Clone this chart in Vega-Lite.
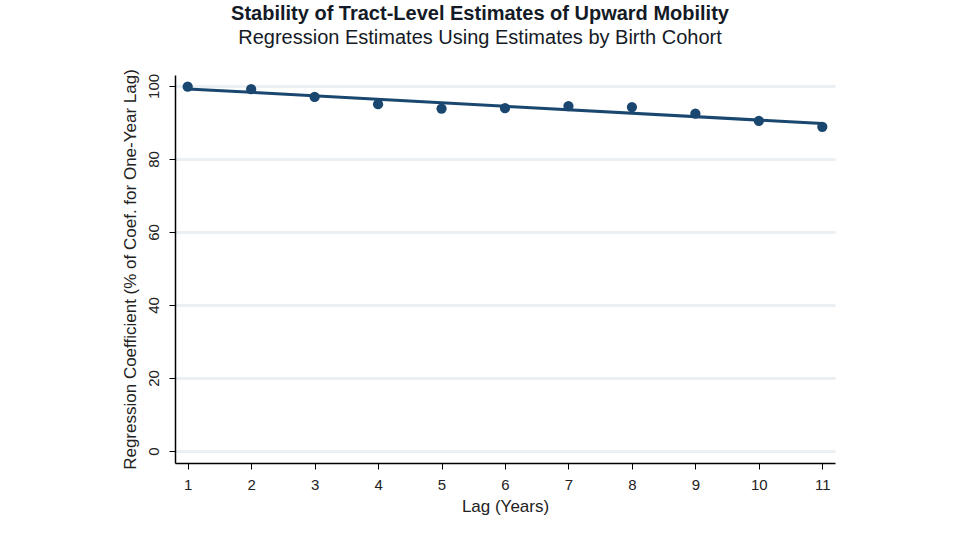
{
  "$schema": "https://vega.github.io/schema/vega-lite/v6.json",
  "width": 660,
  "height": 388,
  "autosize": {"type": "none"},
  "padding": {"left": 175, "top": 75, "right": 125, "bottom": 77},
  "background": "white",
  "config": {
    "font": "Liberation Sans",
    "view": {"stroke": null}
  },
  "title": {
    "text": "Stability of Tract-Level Estimates of Upward Mobility",
    "subtitle": "Regression Estimates Using Estimates by Birth Cohort",
    "anchor": "middle",
    "frame": "group",
    "dx": -25,
    "offset": 21,
    "fontSize": 20,
    "fontWeight": "bold",
    "color": "#141a26",
    "subtitleFontSize": 20,
    "subtitleColor": "#141a26",
    "subtitlePadding": 4,
    "subtitleFont": "Liberation Sans"
  },
  "data": {
    "values": [
      {"lag": 1, "coef": 99.8},
      {"lag": 2, "coef": 99.1},
      {"lag": 3, "coef": 97.0},
      {"lag": 4, "coef": 95.0},
      {"lag": 5, "coef": 93.8},
      {"lag": 6, "coef": 93.9},
      {"lag": 7, "coef": 94.5},
      {"lag": 8, "coef": 94.2},
      {"lag": 9, "coef": 92.4},
      {"lag": 10, "coef": 90.4},
      {"lag": 11, "coef": 88.8}
    ]
  },
  "layer": [
    {
      "transform": [{"regression": "coef", "on": "lag"}],
      "mark": {"type": "line", "color": "#1a476f", "strokeWidth": 3},
      "encoding": {
        "x": {"field": "lag", "type": "quantitative"},
        "y": {"field": "coef", "type": "quantitative"}
      }
    },
    {
      "mark": {"type": "circle", "color": "#1a476f", "opacity": 1, "size": 105},
      "encoding": {
        "x": {
          "field": "lag",
          "type": "quantitative",
          "scale": {"domain": [0.8, 11.2], "nice": false, "zero": false},
          "axis": {
            "title": "Lag (Years)",
            "titleFontSize": 17,
            "titleFontWeight": "normal",
            "titleColor": "#222",
            "titlePadding": 6,
            "values": [1, 2, 3, 4, 5, 6, 7, 8, 9, 10, 11],
            "format": "d",
            "labelFontSize": 15,
            "labelColor": "#222",
            "labelPadding": 8,
            "tickSize": 6,
            "tickColor": "black",
            "domainColor": "black",
            "domainWidth": 1.5,
            "grid": false
          }
        },
        "y": {
          "field": "coef",
          "type": "quantitative",
          "scale": {"domain": [-3.3, 103], "nice": false, "zero": false},
          "axis": {
            "title": "Regression Coefficient (% of Coef. for One-Year Lag)",
            "titleFontSize": 17,
            "titleFontWeight": "normal",
            "titleColor": "#222",
            "titlePadding": 7,
            "values": [0, 20, 40, 60, 80, 100],
            "labelAngle": -90,
            "labelAlign": "center",
            "labelBaseline": "bottom",
            "labelFontSize": 15,
            "labelColor": "#222",
            "labelPadding": 8,
            "tickSize": 6,
            "tickColor": "black",
            "domainColor": "black",
            "domainWidth": 1.5,
            "grid": true,
            "gridColor": "#eaf0f4",
            "gridWidth": 3
          }
        }
      }
    }
  ]
}
